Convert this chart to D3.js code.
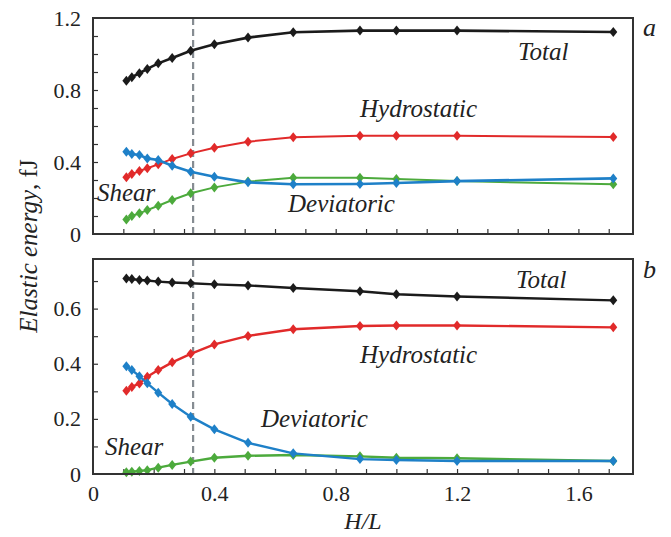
<!DOCTYPE html>
<html>
<head>
<meta charset="utf-8">
<script src="https://cdn.jsdelivr.net/npm/d3@7"></script>
<style>
  body { margin: 0; background: #fff; }
  svg text { font-family: "Liberation Serif", "DejaVu Serif", serif; fill: #222; }
</style>
</head>
<body>
<svg id="chart" width="671" height="537"></svg>
<script>
// H/L values shared by both panels
const ratios = [0.11, 0.128, 0.153, 0.179, 0.215, 0.261, 0.322, 0.40, 0.511, 0.66, 0.88, 1.0, 1.2, 1.715];

// panel a
const totalA = [0.852, 0.871, 0.893, 0.917, 0.948, 0.978, 1.018, 1.054, 1.091, 1.121, 1.13, 1.13, 1.13, 1.122];
const hydroA = [0.315, 0.333, 0.350, 0.365, 0.387, 0.417, 0.448, 0.479, 0.513, 0.537, 0.546, 0.546, 0.546, 0.539];
const shearA = [0.457, 0.444, 0.439, 0.420, 0.411, 0.379, 0.346, 0.318, 0.287, 0.276, 0.278, 0.283, 0.294, 0.309];
const devA   = [0.081, 0.100, 0.115, 0.133, 0.157, 0.189, 0.226, 0.259, 0.291, 0.313, 0.313, 0.306, 0.294, 0.276];

// panel b
const totalB = [0.709, 0.707, 0.704, 0.702, 0.698, 0.695, 0.692, 0.688, 0.684, 0.675, 0.663, 0.652, 0.644, 0.630];
const hydroB = [0.302, 0.316, 0.328, 0.353, 0.377, 0.405, 0.436, 0.470, 0.501, 0.525, 0.537, 0.539, 0.539, 0.532];
const shearB = [0.391, 0.377, 0.355, 0.329, 0.295, 0.254, 0.208, 0.162, 0.113, 0.075, 0.054, 0.051, 0.047, 0.047];
const devB   = [0.006, 0.008, 0.011, 0.014, 0.023, 0.033, 0.045, 0.059, 0.066, 0.069, 0.064, 0.059, 0.057, 0.047];

const xTickLabels = [0, 0.4, 0.8, 1.2, 1.6];
const yLabelsA = [0, 0.4, 0.8, 1.2];
const yLabelsB = [0, 0.2, 0.4, 0.6];
const dashedAt = 0.33;

const svg = d3.select("#chart");
const left = 93, right = 633;
const serif = "Liberation Serif, DejaVu Serif, serif";

const x = d3.scaleLinear().domain([0, 1.78]).range([left, right]);

const colors = { total: "#1b1b1b", hydro: "#e12a2a", shear: "#1e80c8", dev: "#4caa3c" };
const diamond = "M0,-5L4,0L0,5L-4,0Z";

function drawPanel(cfg) {
  const y = d3.scaleLinear().domain([0, cfg.yMax]).range([cfg.bottom, cfg.top]);
  const g = svg.append("g");

  // inward ticks
  g.append("g")
    .attr("transform", `translate(0,${cfg.bottom})`)
    .call(d3.axisBottom(x).tickValues(d3.range(0.1, 1.75, 0.1)).tickSize(-5).tickFormat(""))
    .call(a => a.select(".domain").remove())
    .selectAll("line").attr("stroke", "#333").attr("stroke-width", 1.2);

  g.append("g")
    .attr("transform", `translate(${left},0)`)
    .call(d3.axisLeft(y).tickValues(d3.range(0.1, cfg.yMax - 0.01, 0.1)).tickSize(-5).tickFormat(""))
    .call(a => a.select(".domain").remove())
    .selectAll("line").attr("stroke", "#333").attr("stroke-width", 1.2);

  // y labels
  g.append("g")
    .attr("transform", `translate(${left},0)`)
    .call(d3.axisLeft(y).tickValues(cfg.yLabels).tickSize(0).tickPadding(12).tickFormat(d => d === 0 ? "0" : d3.format(".1f")(d)))
    .call(a => a.select(".domain").remove())
    .attr("font-family", serif)
    .selectAll("text")
    .attr("font-size", 22)
    .attr("fill", "#222");

  // dashed marker line
  g.append("line")
    .attr("x1", x(dashedAt)).attr("x2", x(dashedAt))
    .attr("y1", cfg.top).attr("y2", cfg.bottom)
    .attr("stroke", "#868c92")
    .attr("stroke-width", 2.2)
    .attr("stroke-dasharray", "7,4");

  const line = d3.line().x((d, i) => x(ratios[i])).y(d => y(d));

  cfg.series.forEach(s => {
    g.append("path")
      .datum(s.values)
      .attr("d", line)
      .attr("fill", "none")
      .attr("stroke", s.color)
      .attr("stroke-width", s.width);

    g.selectAll(null)
      .data(s.values)
      .join("path")
      .attr("d", diamond)
      .attr("transform", (d, i) => `translate(${x(ratios[i])},${y(d)})`)
      .attr("fill", s.color);
  });

  // frame
  g.append("rect")
    .attr("x", left).attr("y", cfg.top)
    .attr("width", right - left).attr("height", cfg.bottom - cfg.top)
    .attr("fill", "none")
    .attr("stroke", "#333")
    .attr("stroke-width", 2);

  cfg.labels.forEach(l => {
    g.append("text")
      .attr("x", l[1]).attr("y", l[2])
      .attr("font-family", serif)
      .attr("font-size", 25)
      .attr("font-style", "italic")
      .text(l[0]);
  });

  g.append("text")
    .attr("x", 643).attr("y", cfg.letterY)
    .attr("font-family", serif)
    .attr("font-size", 26)
    .attr("font-style", "italic")
    .text(cfg.letter);

  return y;
}

drawPanel({
  top: 18, bottom: 234, yMax: 1.2, yLabels: yLabelsA, letter: "a", letterY: 36,
  series: [
    { values: hydroA, color: colors.hydro, width: 2 },
    { values: devA, color: colors.dev, width: 2 },
    { values: shearA, color: colors.shear, width: 2.6 },
    { values: totalA, color: colors.total, width: 2.6 }
  ],
  labels: [["Total", 518, 60], ["Hydrostatic", 360, 117], ["Shear", 97, 201], ["Deviatoric", 288, 212]]
});

drawPanel({
  top: 259, bottom: 474, yMax: 0.78, yLabels: yLabelsB, letter: "b", letterY: 278,
  series: [
    { values: hydroB, color: colors.hydro, width: 2.4 },
    { values: devB, color: colors.dev, width: 2.4 },
    { values: shearB, color: colors.shear, width: 2.4 },
    { values: totalB, color: colors.total, width: 2.4 }
  ],
  labels: [["Total", 516, 288], ["Hydrostatic", 360, 363], ["Deviatoric", 261, 427], ["Shear", 105, 455]]
});

// x tick labels
svg.append("g")
  .attr("transform", "translate(0,474)")
  .call(d3.axisBottom(x).tickValues(xTickLabels).tickSize(0).tickPadding(11).tickFormat(d => d === 0 ? "0" : d3.format(".1f")(d)))
  .call(a => a.select(".domain").remove())
  .attr("font-family", serif)
  .selectAll("text")
  .attr("font-size", 22)
  .attr("fill", "#222");

// axis titles
svg.append("text")
  .attr("x", 363).attr("y", 529)
  .attr("text-anchor", "middle")
  .attr("font-family", serif)
  .attr("font-size", 24)
  .attr("font-style", "italic")
  .text("H/L");

const yt = svg.append("text")
  .attr("transform", "translate(37,246) rotate(-90)")
  .attr("text-anchor", "middle")
  .attr("font-family", serif)
  .attr("font-size", 25);
yt.append("tspan").attr("font-style", "italic").text("Elastic energy");
yt.append("tspan").text(", fJ");
</script>
</body>
</html>
